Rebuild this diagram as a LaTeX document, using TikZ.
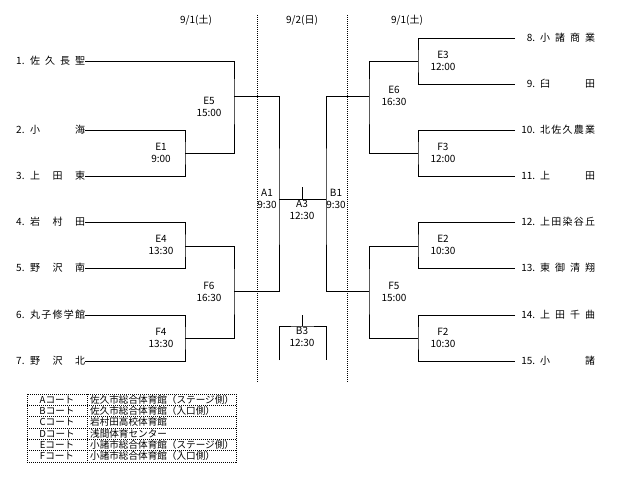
\documentclass[tikz,border=0pt]{standalone}
\usepackage{fontspec}
\setmainfont{Noto Sans CJK JP}
\begin{document}
\begin{tikzpicture}[x=1pt,y=-1pt,
  team/.style={inner sep=0pt, font=\fontsize{10}{12}\selectfont, text height=7pt, text depth=0pt},
  match/.style={inner sep=0pt, align=center, font=\fontsize{10}{12}\selectfont},
  hdr/.style={inner sep=0pt, font=\fontsize{10}{12}\selectfont},
  link/.style={line width=1pt},
  dotline/.style={line width=0.9pt, dash pattern=on 1pt off 1pt},
  cell/.style={inner sep=0pt, font=\fontsize{9.6}{11}\selectfont, text height=7pt, text depth=0pt}]
\useasboundingbox (0,0) rectangle (633,485);

% headers
\node[hdr] (h1) at (196,20) {9/1(土)};
\node[hdr] (h2) at (302,20) {9/2(日)};
\node[hdr] (h3) at (407,20) {9/1(土)};

% day separators
\coordinate (s1t) at (257,15); \coordinate (s1b) at (257,383);
\coordinate (s2t) at (347,15); \coordinate (s2b) at (347,383);
\draw[dotline] (s1t) -- (s1b);
\draw[dotline] (s2t) -- (s2b);

% left teams
\node[team, anchor=west] (t1) at (16,61) {\makebox[14pt][l]{1.}\makebox[55pt][s]{佐\hfill{}久\hfill{}長\hfill{}聖}};
\node[team, anchor=west] (t2) at (16,130) {\makebox[14pt][l]{2.}\makebox[55pt][s]{小\hfill{}海}};
\node[team, anchor=west] (t3) at (16,176) {\makebox[14pt][l]{3.}\makebox[55pt][s]{上\hfill{}田\hfill{}東}};
\node[team, anchor=west] (t4) at (16,222) {\makebox[14pt][l]{4.}\makebox[55pt][s]{岩\hfill{}村\hfill{}田}};
\node[team, anchor=west] (t5) at (16,268) {\makebox[14pt][l]{5.}\makebox[55pt][s]{野\hfill{}沢\hfill{}南}};
\node[team, anchor=west] (t6) at (16,315) {\makebox[14pt][l]{6.}\makebox[55pt][s]{丸\hfill{}子\hfill{}修\hfill{}学\hfill{}館}};
\node[team, anchor=west] (t7) at (16,361) {\makebox[14pt][l]{7.}\makebox[55pt][s]{野\hfill{}沢\hfill{}北}};

% right teams
\node[team, anchor=west] (t8) at (515,38) {\makebox[20pt][r]{8.}\hspace{5pt}\makebox[55pt][s]{小\hfill{}諸\hfill{}商\hfill{}業}};
\node[team, anchor=west] (t9) at (515,84) {\makebox[20pt][r]{9.}\hspace{5pt}\makebox[55pt][s]{臼\hfill{}田}};
\node[team, anchor=west] (t10) at (515,130) {\makebox[20pt][r]{10.}\hspace{5pt}\makebox[55pt][s]{北\hfill{}佐\hfill{}久\hfill{}農\hfill{}業}};
\node[team, anchor=west] (t11) at (515,176) {\makebox[20pt][r]{11.}\hspace{5pt}\makebox[55pt][s]{上\hfill{}田}};
\node[team, anchor=west] (t12) at (515,222) {\makebox[20pt][r]{12.}\hspace{5pt}\makebox[55pt][s]{上\hfill{}田\hfill{}染\hfill{}谷\hfill{}丘}};
\node[team, anchor=west] (t13) at (515,268) {\makebox[20pt][r]{13.}\hspace{5pt}\makebox[55pt][s]{東\hfill{}御\hfill{}清\hfill{}翔}};
\node[team, anchor=west] (t14) at (515,315) {\makebox[20pt][r]{14.}\hspace{5pt}\makebox[55pt][s]{上\hfill{}田\hfill{}千\hfill{}曲}};
\node[team, anchor=west] (t15) at (515,361) {\makebox[20pt][r]{15.}\hspace{5pt}\makebox[55pt][s]{小\hfill{}諸}};

% junctions
\coordinate (e1) at (185,153);
\coordinate (e5) at (234,96);
\coordinate (e4) at (185,246);
\coordinate (f4) at (185,338);
\coordinate (f6) at (234,291);
\coordinate (a1) at (279,199);
\coordinate (a3) at (302,199);
\coordinate (a3t) at (302,187);
\coordinate (b1) at (326,199);
\coordinate (e6) at (369,96);
\coordinate (f5) at (369,291);
\coordinate (e3) at (418,61);
\coordinate (f3) at (418,153);
\coordinate (e2) at (418,246);
\coordinate (f2) at (418,338);
\coordinate (b3) at (302,326);
\coordinate (b3t) at (302,315);
\coordinate (b3l) at (279,360);
\coordinate (b3r) at (326,360);

% left bracket
\draw[link] (t2.east) -| (e1) |- (t3.east);
\draw[link] (e1) -| (e5) |- (t1.east);
\draw[link] (t4.east) -| (e4) |- (t5.east);
\draw[link] (t6.east) -| (f4) |- (t7.east);
\draw[link] (e4) -| (f6) |- (f4);
\draw[link] (e5) -| (a1) |- (f6);
% final
\draw[link] (a1) -- (b1);
\draw[link] (a3) -- (a3t);
% right bracket
\draw[link] (e6) -| (b1) |- (f5);
\draw[link] (e3) -| (e6) |- (f3);
\draw[link] (t8.west) -| (e3) |- (t9.west);
\draw[link] (t10.west) -| (f3) |- (t11.west);
\draw[link] (e2) -| (f5) |- (f2);
\draw[link] (t12.west) -| (e2) |- (t13.west);
\draw[link] (t14.west) -| (f2) |- (t15.west);
% third place
\draw[link] (b3l) |- (b3) -| (b3r);
\draw[link] (b3) -- (b3t);

% match labels
\node[match] (lE1) at (161,153) {E1\\9:00};
\node[match] (lE5) at (209,107) {E5\\15:00};
\node[match] (lE4) at (161,245) {E4\\13:30};
\node[match] (lF6) at (209,292) {F6\\16:30};
\node[match] (lF4) at (161,338) {F4\\13:30};
\node[match] (lA1) at (267,199) {A1\\9:30};
\node[match] (lB1) at (336,199) {B1\\9:30};
\node[match] (lA3) at (302,210) {A3\\12:30};
\node[match] (lB3) at (302,337) {B3\\12:30};
\node[match] (lE3) at (443,61) {E3\\12:00};
\node[match] (lE6) at (394,96) {E6\\16:30};
\node[match] (lF3) at (443,153) {F3\\12:00};
\node[match] (lE2) at (443,245) {E2\\10:30};
\node[match] (lF5) at (394,292) {F5\\15:00};
\node[match] (lF2) at (443,338) {F2\\10:30};

% legend table
\draw[dotline] (27,394) rectangle (236,462);
\draw[dotline] (87,394) -- (87,462);
\foreach \yy in {405.3,416.7,428,439.3,450.7} \draw[dotline] (27,\yy) -- (236,\yy);
\node[cell] (ca) at (57,399.7) {Aコート};
\node[cell] (cb) at (57,411) {Bコート};
\node[cell] (cc) at (57,422.3) {Cコート};
\node[cell] (cd) at (57,433.7) {Dコート};
\node[cell] (ce) at (57,445) {Eコート};
\node[cell] (cf) at (57,456.3) {Fコート};
\node[cell, anchor=west] (va) at (90,399.7) {佐久市総合体育館（ステージ側）};
\node[cell, anchor=west] (vb) at (90,411) {佐久市総合体育館（入口側）};
\node[cell, anchor=west] (vc) at (90,422.3) {岩村田高校体育館};
\node[cell, anchor=west] (vd) at (90,433.7) {浅間体育センター};
\node[cell, anchor=west] (ve) at (90,445) {小諸市総合体育館（ステージ側）};
\node[cell, anchor=west] (vf) at (90,456.3) {小諸市総合体育館（入口側）};
\end{tikzpicture}
\end{document}
